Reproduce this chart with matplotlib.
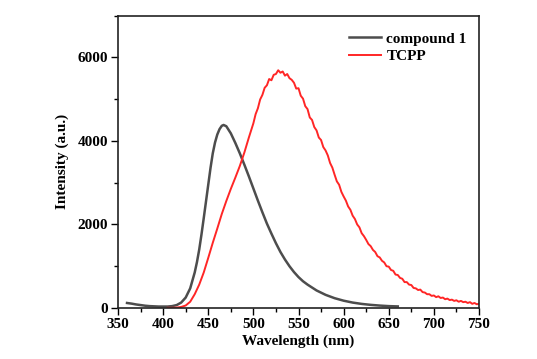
import numpy as np
import matplotlib
matplotlib.use("Agg")
import matplotlib.pyplot as plt
from matplotlib.ticker import MultipleLocator

# compound 1 emission
gray_x = [360, 365, 370, 375, 380, 385, 390, 395, 400, 405, 410, 415, 420, 425, 430,
          435, 437.5, 440, 442.5, 445, 447.5, 450, 452.5, 455, 457.5, 460, 462.5, 465, 467,
          470, 475, 480, 485, 490, 495, 500,
          505, 510, 515, 520, 525, 530, 535, 540, 545, 550, 555, 560, 570, 580, 590, 600,
          610, 620, 630, 640, 650, 660]
gray_y = [120, 105, 85, 70, 55, 45, 40, 35, 35, 35, 45, 70, 130, 250, 470,
          850, 1100, 1400, 1760, 2150, 2550, 2950, 3350, 3700, 3960, 4150, 4280, 4360, 4380,
          4350, 4180, 3950, 3700, 3430, 3150, 2860,
          2570, 2290, 2020, 1780, 1550, 1340, 1160, 1000, 860, 740, 640, 560, 420, 315, 235, 175,
          130, 98, 75, 58, 45, 38]

# TCPP emission
red_x = [405, 410, 415, 420, 425, 430, 435, 440, 445, 450, 455, 460, 465, 470, 475,
         480, 485, 490, 495,
         500, 502.5, 505, 507.5, 510, 512.5, 515, 517.5, 520, 522.5, 525, 527.5, 530, 532.5,
         535, 537.5, 540, 542.5, 545, 547.5, 550, 552.5, 555, 557.5, 560, 562.5, 565, 567.5,
         570, 572.5, 575, 577.5, 580, 582.5, 585, 587.5, 590, 592.5, 595, 597.5, 600, 602.5,
         605, 607.5, 610, 612.5, 615, 617.5, 620, 622.5, 625, 627.5, 630, 632.5, 635, 637.5,
         640, 642.5, 645, 647.5, 650, 652.5, 655, 657.5, 660, 662.5, 665, 667.5, 670, 672.5,
         675, 677.5, 680, 682.5, 685, 687.5, 690, 692.5, 695, 697.5, 700, 702.5, 705, 707.5,
         710, 712.5, 715, 717.5, 720, 722.5, 725, 727.5, 730, 732.5, 735, 737.5, 740, 742.5,
         745, 747.5, 750]
red_y = [5, 5, 10, 25, 60, 150, 330, 560, 850, 1200, 1560, 1900, 2250, 2560, 2850,
         3120, 3400, 3720, 4080,
         4420, 4640, 4780, 4990, 5100, 5270, 5330, 5480, 5450, 5580, 5600, 5690, 5630, 5660,
         5560, 5600, 5500, 5460, 5390, 5250, 5260, 5080, 5010, 4830, 4760, 4560, 4500, 4330,
         4250, 4080, 4020, 3850, 3770, 3650, 3470, 3360, 3190, 3030, 2950, 2780, 2670, 2570,
         2430, 2350, 2210, 2130, 2000, 1930, 1790, 1720, 1630, 1530, 1480, 1390, 1340, 1240,
         1210, 1130, 1090, 1000, 990, 910, 890, 800, 790, 720, 700, 620, 620, 560,
         550, 480, 470, 430, 440, 380, 370, 330, 330, 290, 300, 260, 280, 240,
         250, 210, 225, 190, 200, 170, 185, 150, 170, 140, 150, 120, 140, 100,
         120, 90, 100]

series_labels = ["compound 1", "TCPP"]
x_ticks = [350, 400, 450, 500, 550, 600, 650, 700, 750]
y_ticks = [0, 2000, 4000, 6000]

plt.rcParams['font.family'] = ['Liberation Serif', 'DejaVu Serif']
plt.rcParams['font.weight'] = 'bold'

fig = plt.figure(figsize=(5.37, 3.59), dpi=100)
ax = fig.add_axes([118 / 537, 1 - 308 / 359, (479 - 118) / 537, (308 - 15.5) / 359])

ax.plot(gray_x, gray_y, color='#4d4d4d', lw=1.8, label=series_labels[0])
ax.plot(red_x, red_y, color='#ff2626', lw=1.4, label=series_labels[1])

ax.set_xlim(350, 750)
ax.set_ylim(0, 7000)
ax.set_xticks(x_ticks)
ax.set_yticks(y_ticks)
ax.xaxis.set_minor_locator(MultipleLocator(25))
ax.yaxis.set_minor_locator(MultipleLocator(1000))
ax.tick_params(which='both', direction='out', top=False, right=False, width=1.0,
               labelsize=11, pad=2)
ax.tick_params(which='major', length=5)
ax.tick_params(which='minor', length=3)
for lbl in ax.get_xticklabels() + ax.get_yticklabels():
    lbl.set_fontweight('bold')
for sp in ax.spines.values():
    sp.set_linewidth(1.2)
    sp.set_color('#222222')

ax.set_xlabel('Wavelength (nm)', fontsize=11, fontweight='bold', labelpad=3)
ax.set_ylabel('Intensity (a.u.)', fontsize=11, fontweight='bold', labelpad=6)

leg = ax.legend(loc='upper right', bbox_to_anchor=(1.0, 0.985), frameon=False,
                fontsize=11, handlelength=2.15, handletextpad=0.33,
                labelspacing=0.25, borderaxespad=0.4)
for t in leg.get_texts():
    t.set_fontweight('bold')

fig.savefig('out.png', dpi=100)
